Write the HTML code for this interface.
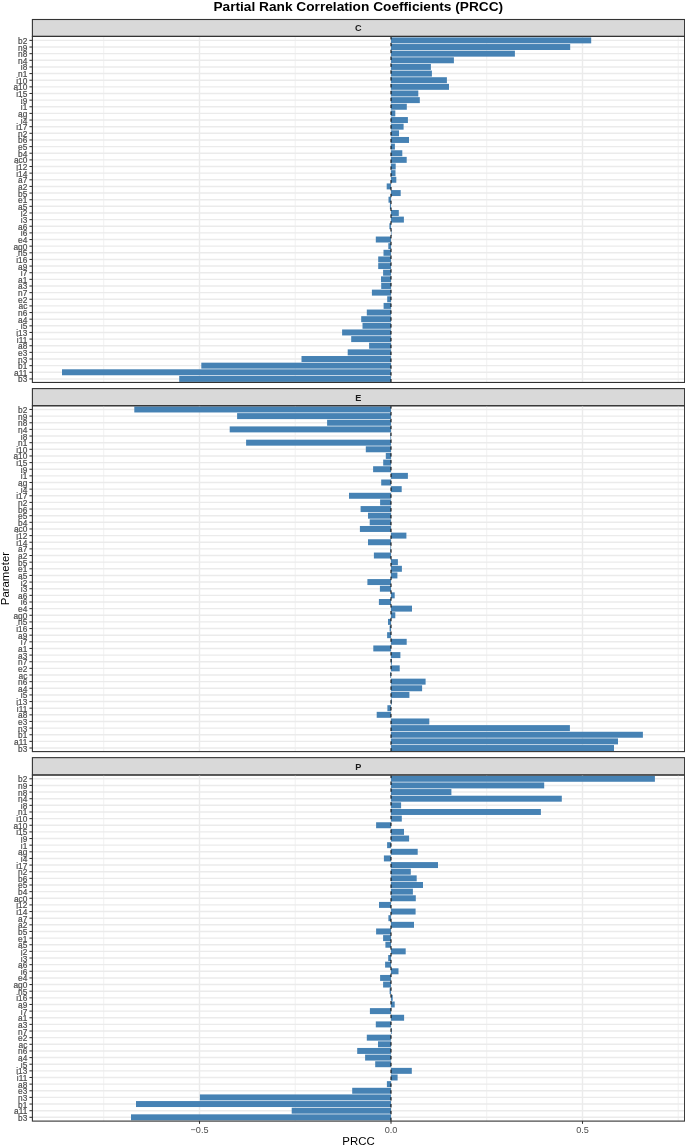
<!DOCTYPE html><html><head><meta charset="utf-8"><style>html,body{margin:0;padding:0;background:#fff;}svg{display:block;will-change:transform;}text{font-family:"Liberation Sans",sans-serif;}</style></head><body>
<svg width="685" height="1146" viewBox="0 0 685 1146">
<rect x="0" y="0" width="685" height="1146" fill="#fff"/>
<text x="358.3" y="10.5" font-size="13.7" font-weight="bold" text-anchor="middle" fill="#000">Partial Rank Correlation Coefficients (PRCC)</text>
<rect x="32.4" y="19.5" width="652.2" height="16.9" fill="#D9D9D9" stroke="#333" stroke-width="1.1"/>
<text x="358.4" y="31.35" font-size="9.13" font-weight="bold" text-anchor="middle" fill="#1A1A1A">C</text>
<line x1="103.75" y1="36.4" x2="103.75" y2="382.45" stroke="#EBEBEB" stroke-width="0.71"/>
<line x1="295.25" y1="36.4" x2="295.25" y2="382.45" stroke="#EBEBEB" stroke-width="0.71"/>
<line x1="486.75" y1="36.4" x2="486.75" y2="382.45" stroke="#EBEBEB" stroke-width="0.71"/>
<line x1="678.25" y1="36.4" x2="678.25" y2="382.45" stroke="#EBEBEB" stroke-width="0.71"/>
<line x1="32.4" y1="40.38" x2="684.6" y2="40.38" stroke="#EBEBEB" stroke-width="1.42"/>
<line x1="32.4" y1="47.02" x2="684.6" y2="47.02" stroke="#EBEBEB" stroke-width="1.42"/>
<line x1="32.4" y1="53.66" x2="684.6" y2="53.66" stroke="#EBEBEB" stroke-width="1.42"/>
<line x1="32.4" y1="60.3" x2="684.6" y2="60.3" stroke="#EBEBEB" stroke-width="1.42"/>
<line x1="32.4" y1="66.93" x2="684.6" y2="66.93" stroke="#EBEBEB" stroke-width="1.42"/>
<line x1="32.4" y1="73.57" x2="684.6" y2="73.57" stroke="#EBEBEB" stroke-width="1.42"/>
<line x1="32.4" y1="80.21" x2="684.6" y2="80.21" stroke="#EBEBEB" stroke-width="1.42"/>
<line x1="32.4" y1="86.85" x2="684.6" y2="86.85" stroke="#EBEBEB" stroke-width="1.42"/>
<line x1="32.4" y1="93.49" x2="684.6" y2="93.49" stroke="#EBEBEB" stroke-width="1.42"/>
<line x1="32.4" y1="100.12" x2="684.6" y2="100.12" stroke="#EBEBEB" stroke-width="1.42"/>
<line x1="32.4" y1="106.76" x2="684.6" y2="106.76" stroke="#EBEBEB" stroke-width="1.42"/>
<line x1="32.4" y1="113.4" x2="684.6" y2="113.4" stroke="#EBEBEB" stroke-width="1.42"/>
<line x1="32.4" y1="120.04" x2="684.6" y2="120.04" stroke="#EBEBEB" stroke-width="1.42"/>
<line x1="32.4" y1="126.68" x2="684.6" y2="126.68" stroke="#EBEBEB" stroke-width="1.42"/>
<line x1="32.4" y1="133.31" x2="684.6" y2="133.31" stroke="#EBEBEB" stroke-width="1.42"/>
<line x1="32.4" y1="139.95" x2="684.6" y2="139.95" stroke="#EBEBEB" stroke-width="1.42"/>
<line x1="32.4" y1="146.59" x2="684.6" y2="146.59" stroke="#EBEBEB" stroke-width="1.42"/>
<line x1="32.4" y1="153.23" x2="684.6" y2="153.23" stroke="#EBEBEB" stroke-width="1.42"/>
<line x1="32.4" y1="159.87" x2="684.6" y2="159.87" stroke="#EBEBEB" stroke-width="1.42"/>
<line x1="32.4" y1="166.5" x2="684.6" y2="166.5" stroke="#EBEBEB" stroke-width="1.42"/>
<line x1="32.4" y1="173.14" x2="684.6" y2="173.14" stroke="#EBEBEB" stroke-width="1.42"/>
<line x1="32.4" y1="179.78" x2="684.6" y2="179.78" stroke="#EBEBEB" stroke-width="1.42"/>
<line x1="32.4" y1="186.42" x2="684.6" y2="186.42" stroke="#EBEBEB" stroke-width="1.42"/>
<line x1="32.4" y1="193.06" x2="684.6" y2="193.06" stroke="#EBEBEB" stroke-width="1.42"/>
<line x1="32.4" y1="199.69" x2="684.6" y2="199.69" stroke="#EBEBEB" stroke-width="1.42"/>
<line x1="32.4" y1="206.33" x2="684.6" y2="206.33" stroke="#EBEBEB" stroke-width="1.42"/>
<line x1="32.4" y1="212.97" x2="684.6" y2="212.97" stroke="#EBEBEB" stroke-width="1.42"/>
<line x1="32.4" y1="219.61" x2="684.6" y2="219.61" stroke="#EBEBEB" stroke-width="1.42"/>
<line x1="32.4" y1="226.25" x2="684.6" y2="226.25" stroke="#EBEBEB" stroke-width="1.42"/>
<line x1="32.4" y1="232.88" x2="684.6" y2="232.88" stroke="#EBEBEB" stroke-width="1.42"/>
<line x1="32.4" y1="239.52" x2="684.6" y2="239.52" stroke="#EBEBEB" stroke-width="1.42"/>
<line x1="32.4" y1="246.16" x2="684.6" y2="246.16" stroke="#EBEBEB" stroke-width="1.42"/>
<line x1="32.4" y1="252.8" x2="684.6" y2="252.8" stroke="#EBEBEB" stroke-width="1.42"/>
<line x1="32.4" y1="259.44" x2="684.6" y2="259.44" stroke="#EBEBEB" stroke-width="1.42"/>
<line x1="32.4" y1="266.07" x2="684.6" y2="266.07" stroke="#EBEBEB" stroke-width="1.42"/>
<line x1="32.4" y1="272.71" x2="684.6" y2="272.71" stroke="#EBEBEB" stroke-width="1.42"/>
<line x1="32.4" y1="279.35" x2="684.6" y2="279.35" stroke="#EBEBEB" stroke-width="1.42"/>
<line x1="32.4" y1="285.99" x2="684.6" y2="285.99" stroke="#EBEBEB" stroke-width="1.42"/>
<line x1="32.4" y1="292.63" x2="684.6" y2="292.63" stroke="#EBEBEB" stroke-width="1.42"/>
<line x1="32.4" y1="299.26" x2="684.6" y2="299.26" stroke="#EBEBEB" stroke-width="1.42"/>
<line x1="32.4" y1="305.9" x2="684.6" y2="305.9" stroke="#EBEBEB" stroke-width="1.42"/>
<line x1="32.4" y1="312.54" x2="684.6" y2="312.54" stroke="#EBEBEB" stroke-width="1.42"/>
<line x1="32.4" y1="319.18" x2="684.6" y2="319.18" stroke="#EBEBEB" stroke-width="1.42"/>
<line x1="32.4" y1="325.82" x2="684.6" y2="325.82" stroke="#EBEBEB" stroke-width="1.42"/>
<line x1="32.4" y1="332.45" x2="684.6" y2="332.45" stroke="#EBEBEB" stroke-width="1.42"/>
<line x1="32.4" y1="339.09" x2="684.6" y2="339.09" stroke="#EBEBEB" stroke-width="1.42"/>
<line x1="32.4" y1="345.73" x2="684.6" y2="345.73" stroke="#EBEBEB" stroke-width="1.42"/>
<line x1="32.4" y1="352.37" x2="684.6" y2="352.37" stroke="#EBEBEB" stroke-width="1.42"/>
<line x1="32.4" y1="359.01" x2="684.6" y2="359.01" stroke="#EBEBEB" stroke-width="1.42"/>
<line x1="32.4" y1="365.64" x2="684.6" y2="365.64" stroke="#EBEBEB" stroke-width="1.42"/>
<line x1="32.4" y1="372.28" x2="684.6" y2="372.28" stroke="#EBEBEB" stroke-width="1.42"/>
<line x1="32.4" y1="378.92" x2="684.6" y2="378.92" stroke="#EBEBEB" stroke-width="1.42"/>
<line x1="199.5" y1="36.4" x2="199.5" y2="382.45" stroke="#EBEBEB" stroke-width="1.42"/>
<line x1="391" y1="36.4" x2="391" y2="382.45" stroke="#EBEBEB" stroke-width="1.42"/>
<line x1="582.5" y1="36.4" x2="582.5" y2="382.45" stroke="#EBEBEB" stroke-width="1.42"/>
<rect x="391" y="37.4" width="200.2" height="5.97" fill="#4682B4"/>
<rect x="391" y="44.03" width="179.2" height="5.97" fill="#4682B4"/>
<rect x="391" y="50.67" width="123.9" height="5.97" fill="#4682B4"/>
<rect x="391" y="57.31" width="62.9" height="5.97" fill="#4682B4"/>
<rect x="391" y="63.95" width="39.9" height="5.97" fill="#4682B4"/>
<rect x="391" y="70.59" width="40.9" height="5.97" fill="#4682B4"/>
<rect x="391" y="77.22" width="55.9" height="5.97" fill="#4682B4"/>
<rect x="391" y="83.86" width="58" height="5.97" fill="#4682B4"/>
<rect x="391" y="90.5" width="27.3" height="5.97" fill="#4682B4"/>
<rect x="391" y="97.14" width="28.8" height="5.97" fill="#4682B4"/>
<rect x="391" y="103.78" width="15.8" height="5.97" fill="#4682B4"/>
<rect x="391" y="110.41" width="4.3" height="5.97" fill="#4682B4"/>
<rect x="391" y="117.05" width="16.9" height="5.97" fill="#4682B4"/>
<rect x="391" y="123.69" width="12.6" height="5.97" fill="#4682B4"/>
<rect x="391" y="130.33" width="8" height="5.97" fill="#4682B4"/>
<rect x="391" y="136.97" width="18" height="5.97" fill="#4682B4"/>
<rect x="391" y="143.6" width="3.9" height="5.97" fill="#4682B4"/>
<rect x="391" y="150.24" width="11.3" height="5.97" fill="#4682B4"/>
<rect x="391" y="156.88" width="15.7" height="5.97" fill="#4682B4"/>
<rect x="391" y="163.52" width="4.7" height="5.97" fill="#4682B4"/>
<rect x="391" y="170.16" width="4.5" height="5.97" fill="#4682B4"/>
<rect x="391" y="176.79" width="5.3" height="5.97" fill="#4682B4"/>
<rect x="386.7" y="183.43" width="4.3" height="5.97" fill="#4682B4"/>
<rect x="391" y="190.07" width="9.7" height="5.97" fill="#4682B4"/>
<rect x="388.5" y="196.71" width="2.5" height="5.97" fill="#4682B4"/>
<rect x="389.9" y="203.35" width="1.1" height="5.97" fill="#4682B4"/>
<rect x="391" y="209.98" width="7.8" height="5.97" fill="#4682B4"/>
<rect x="391" y="216.62" width="12.9" height="5.97" fill="#4682B4"/>
<rect x="389.4" y="223.26" width="1.6" height="5.97" fill="#4682B4"/>
<rect x="391" y="229.9" width="0.5" height="5.97" fill="#4682B4"/>
<rect x="375.8" y="236.54" width="15.2" height="5.97" fill="#4682B4"/>
<rect x="388.3" y="243.17" width="2.7" height="5.97" fill="#4682B4"/>
<rect x="383.5" y="249.81" width="7.5" height="5.97" fill="#4682B4"/>
<rect x="378.2" y="256.45" width="12.8" height="5.97" fill="#4682B4"/>
<rect x="378.2" y="263.09" width="12.8" height="5.97" fill="#4682B4"/>
<rect x="383.1" y="269.73" width="7.9" height="5.97" fill="#4682B4"/>
<rect x="381" y="276.36" width="10" height="5.97" fill="#4682B4"/>
<rect x="381.2" y="283" width="9.8" height="5.97" fill="#4682B4"/>
<rect x="371.9" y="289.64" width="19.1" height="5.97" fill="#4682B4"/>
<rect x="387.2" y="296.28" width="3.8" height="5.97" fill="#4682B4"/>
<rect x="383.6" y="302.92" width="7.4" height="5.97" fill="#4682B4"/>
<rect x="366.8" y="309.55" width="24.2" height="5.97" fill="#4682B4"/>
<rect x="361.2" y="316.19" width="29.8" height="5.97" fill="#4682B4"/>
<rect x="362.5" y="322.83" width="28.5" height="5.97" fill="#4682B4"/>
<rect x="342.1" y="329.47" width="48.9" height="5.97" fill="#4682B4"/>
<rect x="351.2" y="336.11" width="39.8" height="5.97" fill="#4682B4"/>
<rect x="369.1" y="342.74" width="21.9" height="5.97" fill="#4682B4"/>
<rect x="347.7" y="349.38" width="43.3" height="5.97" fill="#4682B4"/>
<rect x="301.5" y="356.02" width="89.5" height="5.97" fill="#4682B4"/>
<rect x="201.3" y="362.66" width="189.7" height="5.97" fill="#4682B4"/>
<rect x="62" y="369.3" width="329" height="5.97" fill="#4682B4"/>
<rect x="179.2" y="375.93" width="211.8" height="5.97" fill="#4682B4"/>
<line x1="391" y1="382.45" x2="391" y2="36.4" stroke="#000" stroke-width="1.0" stroke-dasharray="3.43 3.43"/>
<rect x="32.4" y="36.4" width="652.2" height="346.05" fill="none" stroke="#333" stroke-width="1.1"/>
<line x1="29.4" y1="40.38" x2="32.4" y2="40.38" stroke="#333" stroke-width="1.07"/>
<text x="27.3" y="43.88" font-size="8.3" text-anchor="end" fill="#4D4D4D" stroke="#4D4D4D" stroke-width="0.2">b2</text>
<line x1="29.4" y1="47.02" x2="32.4" y2="47.02" stroke="#333" stroke-width="1.07"/>
<text x="27.3" y="50.52" font-size="8.3" text-anchor="end" fill="#4D4D4D" stroke="#4D4D4D" stroke-width="0.2">n9</text>
<line x1="29.4" y1="53.66" x2="32.4" y2="53.66" stroke="#333" stroke-width="1.07"/>
<text x="27.3" y="57.16" font-size="8.3" text-anchor="end" fill="#4D4D4D" stroke="#4D4D4D" stroke-width="0.2">n8</text>
<line x1="29.4" y1="60.3" x2="32.4" y2="60.3" stroke="#333" stroke-width="1.07"/>
<text x="27.3" y="63.8" font-size="8.3" text-anchor="end" fill="#4D4D4D" stroke="#4D4D4D" stroke-width="0.2">n4</text>
<line x1="29.4" y1="66.93" x2="32.4" y2="66.93" stroke="#333" stroke-width="1.07"/>
<text x="27.3" y="70.43" font-size="8.3" text-anchor="end" fill="#4D4D4D" stroke="#4D4D4D" stroke-width="0.2">i8</text>
<line x1="29.4" y1="73.57" x2="32.4" y2="73.57" stroke="#333" stroke-width="1.07"/>
<text x="27.3" y="77.07" font-size="8.3" text-anchor="end" fill="#4D4D4D" stroke="#4D4D4D" stroke-width="0.2">n1</text>
<line x1="29.4" y1="80.21" x2="32.4" y2="80.21" stroke="#333" stroke-width="1.07"/>
<text x="27.3" y="83.71" font-size="8.3" text-anchor="end" fill="#4D4D4D" stroke="#4D4D4D" stroke-width="0.2">i10</text>
<line x1="29.4" y1="86.85" x2="32.4" y2="86.85" stroke="#333" stroke-width="1.07"/>
<text x="27.3" y="90.35" font-size="8.3" text-anchor="end" fill="#4D4D4D" stroke="#4D4D4D" stroke-width="0.2">a10</text>
<line x1="29.4" y1="93.49" x2="32.4" y2="93.49" stroke="#333" stroke-width="1.07"/>
<text x="27.3" y="96.99" font-size="8.3" text-anchor="end" fill="#4D4D4D" stroke="#4D4D4D" stroke-width="0.2">i15</text>
<line x1="29.4" y1="100.12" x2="32.4" y2="100.12" stroke="#333" stroke-width="1.07"/>
<text x="27.3" y="103.62" font-size="8.3" text-anchor="end" fill="#4D4D4D" stroke="#4D4D4D" stroke-width="0.2">i9</text>
<line x1="29.4" y1="106.76" x2="32.4" y2="106.76" stroke="#333" stroke-width="1.07"/>
<text x="27.3" y="110.26" font-size="8.3" text-anchor="end" fill="#4D4D4D" stroke="#4D4D4D" stroke-width="0.2">i1</text>
<line x1="29.4" y1="113.4" x2="32.4" y2="113.4" stroke="#333" stroke-width="1.07"/>
<text x="27.3" y="116.9" font-size="8.3" text-anchor="end" fill="#4D4D4D" stroke="#4D4D4D" stroke-width="0.2">ag</text>
<line x1="29.4" y1="120.04" x2="32.4" y2="120.04" stroke="#333" stroke-width="1.07"/>
<text x="27.3" y="123.54" font-size="8.3" text-anchor="end" fill="#4D4D4D" stroke="#4D4D4D" stroke-width="0.2">i4</text>
<line x1="29.4" y1="126.68" x2="32.4" y2="126.68" stroke="#333" stroke-width="1.07"/>
<text x="27.3" y="130.18" font-size="8.3" text-anchor="end" fill="#4D4D4D" stroke="#4D4D4D" stroke-width="0.2">i17</text>
<line x1="29.4" y1="133.31" x2="32.4" y2="133.31" stroke="#333" stroke-width="1.07"/>
<text x="27.3" y="136.81" font-size="8.3" text-anchor="end" fill="#4D4D4D" stroke="#4D4D4D" stroke-width="0.2">n2</text>
<line x1="29.4" y1="139.95" x2="32.4" y2="139.95" stroke="#333" stroke-width="1.07"/>
<text x="27.3" y="143.45" font-size="8.3" text-anchor="end" fill="#4D4D4D" stroke="#4D4D4D" stroke-width="0.2">b6</text>
<line x1="29.4" y1="146.59" x2="32.4" y2="146.59" stroke="#333" stroke-width="1.07"/>
<text x="27.3" y="150.09" font-size="8.3" text-anchor="end" fill="#4D4D4D" stroke="#4D4D4D" stroke-width="0.2">e5</text>
<line x1="29.4" y1="153.23" x2="32.4" y2="153.23" stroke="#333" stroke-width="1.07"/>
<text x="27.3" y="156.73" font-size="8.3" text-anchor="end" fill="#4D4D4D" stroke="#4D4D4D" stroke-width="0.2">b4</text>
<line x1="29.4" y1="159.87" x2="32.4" y2="159.87" stroke="#333" stroke-width="1.07"/>
<text x="27.3" y="163.37" font-size="8.3" text-anchor="end" fill="#4D4D4D" stroke="#4D4D4D" stroke-width="0.2">ac0</text>
<line x1="29.4" y1="166.5" x2="32.4" y2="166.5" stroke="#333" stroke-width="1.07"/>
<text x="27.3" y="170" font-size="8.3" text-anchor="end" fill="#4D4D4D" stroke="#4D4D4D" stroke-width="0.2">i12</text>
<line x1="29.4" y1="173.14" x2="32.4" y2="173.14" stroke="#333" stroke-width="1.07"/>
<text x="27.3" y="176.64" font-size="8.3" text-anchor="end" fill="#4D4D4D" stroke="#4D4D4D" stroke-width="0.2">i14</text>
<line x1="29.4" y1="179.78" x2="32.4" y2="179.78" stroke="#333" stroke-width="1.07"/>
<text x="27.3" y="183.28" font-size="8.3" text-anchor="end" fill="#4D4D4D" stroke="#4D4D4D" stroke-width="0.2">a7</text>
<line x1="29.4" y1="186.42" x2="32.4" y2="186.42" stroke="#333" stroke-width="1.07"/>
<text x="27.3" y="189.92" font-size="8.3" text-anchor="end" fill="#4D4D4D" stroke="#4D4D4D" stroke-width="0.2">a2</text>
<line x1="29.4" y1="193.06" x2="32.4" y2="193.06" stroke="#333" stroke-width="1.07"/>
<text x="27.3" y="196.56" font-size="8.3" text-anchor="end" fill="#4D4D4D" stroke="#4D4D4D" stroke-width="0.2">b5</text>
<line x1="29.4" y1="199.69" x2="32.4" y2="199.69" stroke="#333" stroke-width="1.07"/>
<text x="27.3" y="203.19" font-size="8.3" text-anchor="end" fill="#4D4D4D" stroke="#4D4D4D" stroke-width="0.2">e1</text>
<line x1="29.4" y1="206.33" x2="32.4" y2="206.33" stroke="#333" stroke-width="1.07"/>
<text x="27.3" y="209.83" font-size="8.3" text-anchor="end" fill="#4D4D4D" stroke="#4D4D4D" stroke-width="0.2">a5</text>
<line x1="29.4" y1="212.97" x2="32.4" y2="212.97" stroke="#333" stroke-width="1.07"/>
<text x="27.3" y="216.47" font-size="8.3" text-anchor="end" fill="#4D4D4D" stroke="#4D4D4D" stroke-width="0.2">i2</text>
<line x1="29.4" y1="219.61" x2="32.4" y2="219.61" stroke="#333" stroke-width="1.07"/>
<text x="27.3" y="223.11" font-size="8.3" text-anchor="end" fill="#4D4D4D" stroke="#4D4D4D" stroke-width="0.2">i3</text>
<line x1="29.4" y1="226.25" x2="32.4" y2="226.25" stroke="#333" stroke-width="1.07"/>
<text x="27.3" y="229.75" font-size="8.3" text-anchor="end" fill="#4D4D4D" stroke="#4D4D4D" stroke-width="0.2">a6</text>
<line x1="29.4" y1="232.88" x2="32.4" y2="232.88" stroke="#333" stroke-width="1.07"/>
<text x="27.3" y="236.38" font-size="8.3" text-anchor="end" fill="#4D4D4D" stroke="#4D4D4D" stroke-width="0.2">i6</text>
<line x1="29.4" y1="239.52" x2="32.4" y2="239.52" stroke="#333" stroke-width="1.07"/>
<text x="27.3" y="243.02" font-size="8.3" text-anchor="end" fill="#4D4D4D" stroke="#4D4D4D" stroke-width="0.2">e4</text>
<line x1="29.4" y1="246.16" x2="32.4" y2="246.16" stroke="#333" stroke-width="1.07"/>
<text x="27.3" y="249.66" font-size="8.3" text-anchor="end" fill="#4D4D4D" stroke="#4D4D4D" stroke-width="0.2">ag0</text>
<line x1="29.4" y1="252.8" x2="32.4" y2="252.8" stroke="#333" stroke-width="1.07"/>
<text x="27.3" y="256.3" font-size="8.3" text-anchor="end" fill="#4D4D4D" stroke="#4D4D4D" stroke-width="0.2">n5</text>
<line x1="29.4" y1="259.44" x2="32.4" y2="259.44" stroke="#333" stroke-width="1.07"/>
<text x="27.3" y="262.94" font-size="8.3" text-anchor="end" fill="#4D4D4D" stroke="#4D4D4D" stroke-width="0.2">i16</text>
<line x1="29.4" y1="266.07" x2="32.4" y2="266.07" stroke="#333" stroke-width="1.07"/>
<text x="27.3" y="269.57" font-size="8.3" text-anchor="end" fill="#4D4D4D" stroke="#4D4D4D" stroke-width="0.2">a9</text>
<line x1="29.4" y1="272.71" x2="32.4" y2="272.71" stroke="#333" stroke-width="1.07"/>
<text x="27.3" y="276.21" font-size="8.3" text-anchor="end" fill="#4D4D4D" stroke="#4D4D4D" stroke-width="0.2">i7</text>
<line x1="29.4" y1="279.35" x2="32.4" y2="279.35" stroke="#333" stroke-width="1.07"/>
<text x="27.3" y="282.85" font-size="8.3" text-anchor="end" fill="#4D4D4D" stroke="#4D4D4D" stroke-width="0.2">a1</text>
<line x1="29.4" y1="285.99" x2="32.4" y2="285.99" stroke="#333" stroke-width="1.07"/>
<text x="27.3" y="289.49" font-size="8.3" text-anchor="end" fill="#4D4D4D" stroke="#4D4D4D" stroke-width="0.2">a3</text>
<line x1="29.4" y1="292.63" x2="32.4" y2="292.63" stroke="#333" stroke-width="1.07"/>
<text x="27.3" y="296.13" font-size="8.3" text-anchor="end" fill="#4D4D4D" stroke="#4D4D4D" stroke-width="0.2">n7</text>
<line x1="29.4" y1="299.26" x2="32.4" y2="299.26" stroke="#333" stroke-width="1.07"/>
<text x="27.3" y="302.76" font-size="8.3" text-anchor="end" fill="#4D4D4D" stroke="#4D4D4D" stroke-width="0.2">e2</text>
<line x1="29.4" y1="305.9" x2="32.4" y2="305.9" stroke="#333" stroke-width="1.07"/>
<text x="27.3" y="309.4" font-size="8.3" text-anchor="end" fill="#4D4D4D" stroke="#4D4D4D" stroke-width="0.2">ac</text>
<line x1="29.4" y1="312.54" x2="32.4" y2="312.54" stroke="#333" stroke-width="1.07"/>
<text x="27.3" y="316.04" font-size="8.3" text-anchor="end" fill="#4D4D4D" stroke="#4D4D4D" stroke-width="0.2">n6</text>
<line x1="29.4" y1="319.18" x2="32.4" y2="319.18" stroke="#333" stroke-width="1.07"/>
<text x="27.3" y="322.68" font-size="8.3" text-anchor="end" fill="#4D4D4D" stroke="#4D4D4D" stroke-width="0.2">a4</text>
<line x1="29.4" y1="325.82" x2="32.4" y2="325.82" stroke="#333" stroke-width="1.07"/>
<text x="27.3" y="329.32" font-size="8.3" text-anchor="end" fill="#4D4D4D" stroke="#4D4D4D" stroke-width="0.2">i5</text>
<line x1="29.4" y1="332.45" x2="32.4" y2="332.45" stroke="#333" stroke-width="1.07"/>
<text x="27.3" y="335.95" font-size="8.3" text-anchor="end" fill="#4D4D4D" stroke="#4D4D4D" stroke-width="0.2">i13</text>
<line x1="29.4" y1="339.09" x2="32.4" y2="339.09" stroke="#333" stroke-width="1.07"/>
<text x="27.3" y="342.59" font-size="8.3" text-anchor="end" fill="#4D4D4D" stroke="#4D4D4D" stroke-width="0.2">i11</text>
<line x1="29.4" y1="345.73" x2="32.4" y2="345.73" stroke="#333" stroke-width="1.07"/>
<text x="27.3" y="349.23" font-size="8.3" text-anchor="end" fill="#4D4D4D" stroke="#4D4D4D" stroke-width="0.2">a8</text>
<line x1="29.4" y1="352.37" x2="32.4" y2="352.37" stroke="#333" stroke-width="1.07"/>
<text x="27.3" y="355.87" font-size="8.3" text-anchor="end" fill="#4D4D4D" stroke="#4D4D4D" stroke-width="0.2">e3</text>
<line x1="29.4" y1="359.01" x2="32.4" y2="359.01" stroke="#333" stroke-width="1.07"/>
<text x="27.3" y="362.51" font-size="8.3" text-anchor="end" fill="#4D4D4D" stroke="#4D4D4D" stroke-width="0.2">n3</text>
<line x1="29.4" y1="365.64" x2="32.4" y2="365.64" stroke="#333" stroke-width="1.07"/>
<text x="27.3" y="369.14" font-size="8.3" text-anchor="end" fill="#4D4D4D" stroke="#4D4D4D" stroke-width="0.2">b1</text>
<line x1="29.4" y1="372.28" x2="32.4" y2="372.28" stroke="#333" stroke-width="1.07"/>
<text x="27.3" y="375.78" font-size="8.3" text-anchor="end" fill="#4D4D4D" stroke="#4D4D4D" stroke-width="0.2">a11</text>
<line x1="29.4" y1="378.92" x2="32.4" y2="378.92" stroke="#333" stroke-width="1.07"/>
<text x="27.3" y="382.42" font-size="8.3" text-anchor="end" fill="#4D4D4D" stroke="#4D4D4D" stroke-width="0.2">b3</text>
<rect x="32.4" y="388.6" width="652.2" height="17.15" fill="#D9D9D9" stroke="#333" stroke-width="1.1"/>
<text x="358.4" y="400.57" font-size="9.13" font-weight="bold" text-anchor="middle" fill="#1A1A1A">E</text>
<line x1="103.75" y1="405.75" x2="103.75" y2="751.6" stroke="#EBEBEB" stroke-width="0.71"/>
<line x1="295.25" y1="405.75" x2="295.25" y2="751.6" stroke="#EBEBEB" stroke-width="0.71"/>
<line x1="486.75" y1="405.75" x2="486.75" y2="751.6" stroke="#EBEBEB" stroke-width="0.71"/>
<line x1="678.25" y1="405.75" x2="678.25" y2="751.6" stroke="#EBEBEB" stroke-width="0.71"/>
<line x1="32.4" y1="409.48" x2="684.6" y2="409.48" stroke="#EBEBEB" stroke-width="1.42"/>
<line x1="32.4" y1="416.12" x2="684.6" y2="416.12" stroke="#EBEBEB" stroke-width="1.42"/>
<line x1="32.4" y1="422.76" x2="684.6" y2="422.76" stroke="#EBEBEB" stroke-width="1.42"/>
<line x1="32.4" y1="429.4" x2="684.6" y2="429.4" stroke="#EBEBEB" stroke-width="1.42"/>
<line x1="32.4" y1="436.03" x2="684.6" y2="436.03" stroke="#EBEBEB" stroke-width="1.42"/>
<line x1="32.4" y1="442.67" x2="684.6" y2="442.67" stroke="#EBEBEB" stroke-width="1.42"/>
<line x1="32.4" y1="449.31" x2="684.6" y2="449.31" stroke="#EBEBEB" stroke-width="1.42"/>
<line x1="32.4" y1="455.95" x2="684.6" y2="455.95" stroke="#EBEBEB" stroke-width="1.42"/>
<line x1="32.4" y1="462.59" x2="684.6" y2="462.59" stroke="#EBEBEB" stroke-width="1.42"/>
<line x1="32.4" y1="469.22" x2="684.6" y2="469.22" stroke="#EBEBEB" stroke-width="1.42"/>
<line x1="32.4" y1="475.86" x2="684.6" y2="475.86" stroke="#EBEBEB" stroke-width="1.42"/>
<line x1="32.4" y1="482.5" x2="684.6" y2="482.5" stroke="#EBEBEB" stroke-width="1.42"/>
<line x1="32.4" y1="489.14" x2="684.6" y2="489.14" stroke="#EBEBEB" stroke-width="1.42"/>
<line x1="32.4" y1="495.78" x2="684.6" y2="495.78" stroke="#EBEBEB" stroke-width="1.42"/>
<line x1="32.4" y1="502.41" x2="684.6" y2="502.41" stroke="#EBEBEB" stroke-width="1.42"/>
<line x1="32.4" y1="509.05" x2="684.6" y2="509.05" stroke="#EBEBEB" stroke-width="1.42"/>
<line x1="32.4" y1="515.69" x2="684.6" y2="515.69" stroke="#EBEBEB" stroke-width="1.42"/>
<line x1="32.4" y1="522.33" x2="684.6" y2="522.33" stroke="#EBEBEB" stroke-width="1.42"/>
<line x1="32.4" y1="528.97" x2="684.6" y2="528.97" stroke="#EBEBEB" stroke-width="1.42"/>
<line x1="32.4" y1="535.6" x2="684.6" y2="535.6" stroke="#EBEBEB" stroke-width="1.42"/>
<line x1="32.4" y1="542.24" x2="684.6" y2="542.24" stroke="#EBEBEB" stroke-width="1.42"/>
<line x1="32.4" y1="548.88" x2="684.6" y2="548.88" stroke="#EBEBEB" stroke-width="1.42"/>
<line x1="32.4" y1="555.52" x2="684.6" y2="555.52" stroke="#EBEBEB" stroke-width="1.42"/>
<line x1="32.4" y1="562.16" x2="684.6" y2="562.16" stroke="#EBEBEB" stroke-width="1.42"/>
<line x1="32.4" y1="568.79" x2="684.6" y2="568.79" stroke="#EBEBEB" stroke-width="1.42"/>
<line x1="32.4" y1="575.43" x2="684.6" y2="575.43" stroke="#EBEBEB" stroke-width="1.42"/>
<line x1="32.4" y1="582.07" x2="684.6" y2="582.07" stroke="#EBEBEB" stroke-width="1.42"/>
<line x1="32.4" y1="588.71" x2="684.6" y2="588.71" stroke="#EBEBEB" stroke-width="1.42"/>
<line x1="32.4" y1="595.35" x2="684.6" y2="595.35" stroke="#EBEBEB" stroke-width="1.42"/>
<line x1="32.4" y1="601.98" x2="684.6" y2="601.98" stroke="#EBEBEB" stroke-width="1.42"/>
<line x1="32.4" y1="608.62" x2="684.6" y2="608.62" stroke="#EBEBEB" stroke-width="1.42"/>
<line x1="32.4" y1="615.26" x2="684.6" y2="615.26" stroke="#EBEBEB" stroke-width="1.42"/>
<line x1="32.4" y1="621.9" x2="684.6" y2="621.9" stroke="#EBEBEB" stroke-width="1.42"/>
<line x1="32.4" y1="628.54" x2="684.6" y2="628.54" stroke="#EBEBEB" stroke-width="1.42"/>
<line x1="32.4" y1="635.17" x2="684.6" y2="635.17" stroke="#EBEBEB" stroke-width="1.42"/>
<line x1="32.4" y1="641.81" x2="684.6" y2="641.81" stroke="#EBEBEB" stroke-width="1.42"/>
<line x1="32.4" y1="648.45" x2="684.6" y2="648.45" stroke="#EBEBEB" stroke-width="1.42"/>
<line x1="32.4" y1="655.09" x2="684.6" y2="655.09" stroke="#EBEBEB" stroke-width="1.42"/>
<line x1="32.4" y1="661.73" x2="684.6" y2="661.73" stroke="#EBEBEB" stroke-width="1.42"/>
<line x1="32.4" y1="668.36" x2="684.6" y2="668.36" stroke="#EBEBEB" stroke-width="1.42"/>
<line x1="32.4" y1="675" x2="684.6" y2="675" stroke="#EBEBEB" stroke-width="1.42"/>
<line x1="32.4" y1="681.64" x2="684.6" y2="681.64" stroke="#EBEBEB" stroke-width="1.42"/>
<line x1="32.4" y1="688.28" x2="684.6" y2="688.28" stroke="#EBEBEB" stroke-width="1.42"/>
<line x1="32.4" y1="694.92" x2="684.6" y2="694.92" stroke="#EBEBEB" stroke-width="1.42"/>
<line x1="32.4" y1="701.55" x2="684.6" y2="701.55" stroke="#EBEBEB" stroke-width="1.42"/>
<line x1="32.4" y1="708.19" x2="684.6" y2="708.19" stroke="#EBEBEB" stroke-width="1.42"/>
<line x1="32.4" y1="714.83" x2="684.6" y2="714.83" stroke="#EBEBEB" stroke-width="1.42"/>
<line x1="32.4" y1="721.47" x2="684.6" y2="721.47" stroke="#EBEBEB" stroke-width="1.42"/>
<line x1="32.4" y1="728.11" x2="684.6" y2="728.11" stroke="#EBEBEB" stroke-width="1.42"/>
<line x1="32.4" y1="734.74" x2="684.6" y2="734.74" stroke="#EBEBEB" stroke-width="1.42"/>
<line x1="32.4" y1="741.38" x2="684.6" y2="741.38" stroke="#EBEBEB" stroke-width="1.42"/>
<line x1="32.4" y1="748.02" x2="684.6" y2="748.02" stroke="#EBEBEB" stroke-width="1.42"/>
<line x1="199.5" y1="405.75" x2="199.5" y2="751.6" stroke="#EBEBEB" stroke-width="1.42"/>
<line x1="391" y1="405.75" x2="391" y2="751.6" stroke="#EBEBEB" stroke-width="1.42"/>
<line x1="582.5" y1="405.75" x2="582.5" y2="751.6" stroke="#EBEBEB" stroke-width="1.42"/>
<rect x="134.3" y="406.5" width="256.7" height="5.97" fill="#4682B4"/>
<rect x="237.1" y="413.13" width="153.9" height="5.97" fill="#4682B4"/>
<rect x="327.1" y="419.77" width="63.9" height="5.97" fill="#4682B4"/>
<rect x="229.7" y="426.41" width="161.3" height="5.97" fill="#4682B4"/>
<rect x="390.4" y="433.05" width="0.6" height="5.97" fill="#4682B4"/>
<rect x="246.1" y="439.69" width="144.9" height="5.97" fill="#4682B4"/>
<rect x="365.8" y="446.32" width="25.2" height="5.97" fill="#4682B4"/>
<rect x="385.8" y="452.96" width="5.2" height="5.97" fill="#4682B4"/>
<rect x="383.2" y="459.6" width="7.8" height="5.97" fill="#4682B4"/>
<rect x="373.1" y="466.24" width="17.9" height="5.97" fill="#4682B4"/>
<rect x="391" y="472.88" width="16.9" height="5.97" fill="#4682B4"/>
<rect x="381.2" y="479.51" width="9.8" height="5.97" fill="#4682B4"/>
<rect x="391" y="486.15" width="10.7" height="5.97" fill="#4682B4"/>
<rect x="349" y="492.79" width="42" height="5.97" fill="#4682B4"/>
<rect x="380.1" y="499.43" width="10.9" height="5.97" fill="#4682B4"/>
<rect x="360.6" y="506.07" width="30.4" height="5.97" fill="#4682B4"/>
<rect x="368" y="512.7" width="23" height="5.97" fill="#4682B4"/>
<rect x="369.7" y="519.34" width="21.3" height="5.97" fill="#4682B4"/>
<rect x="359.9" y="525.98" width="31.1" height="5.97" fill="#4682B4"/>
<rect x="391" y="532.62" width="15.4" height="5.97" fill="#4682B4"/>
<rect x="368" y="539.26" width="23" height="5.97" fill="#4682B4"/>
<rect x="390.4" y="545.89" width="0.6" height="5.97" fill="#4682B4"/>
<rect x="373.9" y="552.53" width="17.1" height="5.97" fill="#4682B4"/>
<rect x="391" y="559.17" width="6.9" height="5.97" fill="#4682B4"/>
<rect x="391" y="565.81" width="10.9" height="5.97" fill="#4682B4"/>
<rect x="391" y="572.45" width="6.4" height="5.97" fill="#4682B4"/>
<rect x="367.4" y="579.08" width="23.6" height="5.97" fill="#4682B4"/>
<rect x="379.9" y="585.72" width="11.1" height="5.97" fill="#4682B4"/>
<rect x="391" y="592.36" width="3.7" height="5.97" fill="#4682B4"/>
<rect x="378.9" y="599" width="12.1" height="5.97" fill="#4682B4"/>
<rect x="391" y="605.64" width="21" height="5.97" fill="#4682B4"/>
<rect x="391" y="612.27" width="4.3" height="5.97" fill="#4682B4"/>
<rect x="388" y="618.91" width="3" height="5.97" fill="#4682B4"/>
<rect x="389.6" y="625.55" width="1.4" height="5.97" fill="#4682B4"/>
<rect x="387.1" y="632.19" width="3.9" height="5.97" fill="#4682B4"/>
<rect x="391" y="638.83" width="15.7" height="5.97" fill="#4682B4"/>
<rect x="373.3" y="645.46" width="17.7" height="5.97" fill="#4682B4"/>
<rect x="391" y="652.1" width="9.4" height="5.97" fill="#4682B4"/>
<rect x="391" y="658.74" width="0.9" height="5.97" fill="#4682B4"/>
<rect x="391" y="665.38" width="8.7" height="5.97" fill="#4682B4"/>
<rect x="390.3" y="672.02" width="0.7" height="5.97" fill="#4682B4"/>
<rect x="391" y="678.65" width="34.6" height="5.97" fill="#4682B4"/>
<rect x="391" y="685.29" width="31.1" height="5.97" fill="#4682B4"/>
<rect x="391" y="691.93" width="18.4" height="5.97" fill="#4682B4"/>
<rect x="391" y="698.57" width="0.8" height="5.97" fill="#4682B4"/>
<rect x="387.4" y="705.21" width="3.6" height="5.97" fill="#4682B4"/>
<rect x="376.7" y="711.84" width="14.3" height="5.97" fill="#4682B4"/>
<rect x="391" y="718.48" width="38.3" height="5.97" fill="#4682B4"/>
<rect x="391" y="725.12" width="178.9" height="5.97" fill="#4682B4"/>
<rect x="391" y="731.76" width="251.9" height="5.97" fill="#4682B4"/>
<rect x="391" y="738.4" width="227" height="5.97" fill="#4682B4"/>
<rect x="391" y="745.03" width="223" height="5.97" fill="#4682B4"/>
<line x1="391" y1="751.6" x2="391" y2="405.75" stroke="#000" stroke-width="1.0" stroke-dasharray="3.43 3.43"/>
<rect x="32.4" y="405.75" width="652.2" height="345.85" fill="none" stroke="#333" stroke-width="1.1"/>
<line x1="29.4" y1="409.48" x2="32.4" y2="409.48" stroke="#333" stroke-width="1.07"/>
<text x="27.3" y="412.98" font-size="8.3" text-anchor="end" fill="#4D4D4D" stroke="#4D4D4D" stroke-width="0.2">b2</text>
<line x1="29.4" y1="416.12" x2="32.4" y2="416.12" stroke="#333" stroke-width="1.07"/>
<text x="27.3" y="419.62" font-size="8.3" text-anchor="end" fill="#4D4D4D" stroke="#4D4D4D" stroke-width="0.2">n9</text>
<line x1="29.4" y1="422.76" x2="32.4" y2="422.76" stroke="#333" stroke-width="1.07"/>
<text x="27.3" y="426.26" font-size="8.3" text-anchor="end" fill="#4D4D4D" stroke="#4D4D4D" stroke-width="0.2">n8</text>
<line x1="29.4" y1="429.4" x2="32.4" y2="429.4" stroke="#333" stroke-width="1.07"/>
<text x="27.3" y="432.9" font-size="8.3" text-anchor="end" fill="#4D4D4D" stroke="#4D4D4D" stroke-width="0.2">n4</text>
<line x1="29.4" y1="436.03" x2="32.4" y2="436.03" stroke="#333" stroke-width="1.07"/>
<text x="27.3" y="439.53" font-size="8.3" text-anchor="end" fill="#4D4D4D" stroke="#4D4D4D" stroke-width="0.2">i8</text>
<line x1="29.4" y1="442.67" x2="32.4" y2="442.67" stroke="#333" stroke-width="1.07"/>
<text x="27.3" y="446.17" font-size="8.3" text-anchor="end" fill="#4D4D4D" stroke="#4D4D4D" stroke-width="0.2">n1</text>
<line x1="29.4" y1="449.31" x2="32.4" y2="449.31" stroke="#333" stroke-width="1.07"/>
<text x="27.3" y="452.81" font-size="8.3" text-anchor="end" fill="#4D4D4D" stroke="#4D4D4D" stroke-width="0.2">i10</text>
<line x1="29.4" y1="455.95" x2="32.4" y2="455.95" stroke="#333" stroke-width="1.07"/>
<text x="27.3" y="459.45" font-size="8.3" text-anchor="end" fill="#4D4D4D" stroke="#4D4D4D" stroke-width="0.2">a10</text>
<line x1="29.4" y1="462.59" x2="32.4" y2="462.59" stroke="#333" stroke-width="1.07"/>
<text x="27.3" y="466.09" font-size="8.3" text-anchor="end" fill="#4D4D4D" stroke="#4D4D4D" stroke-width="0.2">i15</text>
<line x1="29.4" y1="469.22" x2="32.4" y2="469.22" stroke="#333" stroke-width="1.07"/>
<text x="27.3" y="472.72" font-size="8.3" text-anchor="end" fill="#4D4D4D" stroke="#4D4D4D" stroke-width="0.2">i9</text>
<line x1="29.4" y1="475.86" x2="32.4" y2="475.86" stroke="#333" stroke-width="1.07"/>
<text x="27.3" y="479.36" font-size="8.3" text-anchor="end" fill="#4D4D4D" stroke="#4D4D4D" stroke-width="0.2">i1</text>
<line x1="29.4" y1="482.5" x2="32.4" y2="482.5" stroke="#333" stroke-width="1.07"/>
<text x="27.3" y="486" font-size="8.3" text-anchor="end" fill="#4D4D4D" stroke="#4D4D4D" stroke-width="0.2">ag</text>
<line x1="29.4" y1="489.14" x2="32.4" y2="489.14" stroke="#333" stroke-width="1.07"/>
<text x="27.3" y="492.64" font-size="8.3" text-anchor="end" fill="#4D4D4D" stroke="#4D4D4D" stroke-width="0.2">i4</text>
<line x1="29.4" y1="495.78" x2="32.4" y2="495.78" stroke="#333" stroke-width="1.07"/>
<text x="27.3" y="499.28" font-size="8.3" text-anchor="end" fill="#4D4D4D" stroke="#4D4D4D" stroke-width="0.2">i17</text>
<line x1="29.4" y1="502.41" x2="32.4" y2="502.41" stroke="#333" stroke-width="1.07"/>
<text x="27.3" y="505.91" font-size="8.3" text-anchor="end" fill="#4D4D4D" stroke="#4D4D4D" stroke-width="0.2">n2</text>
<line x1="29.4" y1="509.05" x2="32.4" y2="509.05" stroke="#333" stroke-width="1.07"/>
<text x="27.3" y="512.55" font-size="8.3" text-anchor="end" fill="#4D4D4D" stroke="#4D4D4D" stroke-width="0.2">b6</text>
<line x1="29.4" y1="515.69" x2="32.4" y2="515.69" stroke="#333" stroke-width="1.07"/>
<text x="27.3" y="519.19" font-size="8.3" text-anchor="end" fill="#4D4D4D" stroke="#4D4D4D" stroke-width="0.2">e5</text>
<line x1="29.4" y1="522.33" x2="32.4" y2="522.33" stroke="#333" stroke-width="1.07"/>
<text x="27.3" y="525.83" font-size="8.3" text-anchor="end" fill="#4D4D4D" stroke="#4D4D4D" stroke-width="0.2">b4</text>
<line x1="29.4" y1="528.97" x2="32.4" y2="528.97" stroke="#333" stroke-width="1.07"/>
<text x="27.3" y="532.47" font-size="8.3" text-anchor="end" fill="#4D4D4D" stroke="#4D4D4D" stroke-width="0.2">ac0</text>
<line x1="29.4" y1="535.6" x2="32.4" y2="535.6" stroke="#333" stroke-width="1.07"/>
<text x="27.3" y="539.1" font-size="8.3" text-anchor="end" fill="#4D4D4D" stroke="#4D4D4D" stroke-width="0.2">i12</text>
<line x1="29.4" y1="542.24" x2="32.4" y2="542.24" stroke="#333" stroke-width="1.07"/>
<text x="27.3" y="545.74" font-size="8.3" text-anchor="end" fill="#4D4D4D" stroke="#4D4D4D" stroke-width="0.2">i14</text>
<line x1="29.4" y1="548.88" x2="32.4" y2="548.88" stroke="#333" stroke-width="1.07"/>
<text x="27.3" y="552.38" font-size="8.3" text-anchor="end" fill="#4D4D4D" stroke="#4D4D4D" stroke-width="0.2">a7</text>
<line x1="29.4" y1="555.52" x2="32.4" y2="555.52" stroke="#333" stroke-width="1.07"/>
<text x="27.3" y="559.02" font-size="8.3" text-anchor="end" fill="#4D4D4D" stroke="#4D4D4D" stroke-width="0.2">a2</text>
<line x1="29.4" y1="562.16" x2="32.4" y2="562.16" stroke="#333" stroke-width="1.07"/>
<text x="27.3" y="565.66" font-size="8.3" text-anchor="end" fill="#4D4D4D" stroke="#4D4D4D" stroke-width="0.2">b5</text>
<line x1="29.4" y1="568.79" x2="32.4" y2="568.79" stroke="#333" stroke-width="1.07"/>
<text x="27.3" y="572.29" font-size="8.3" text-anchor="end" fill="#4D4D4D" stroke="#4D4D4D" stroke-width="0.2">e1</text>
<line x1="29.4" y1="575.43" x2="32.4" y2="575.43" stroke="#333" stroke-width="1.07"/>
<text x="27.3" y="578.93" font-size="8.3" text-anchor="end" fill="#4D4D4D" stroke="#4D4D4D" stroke-width="0.2">a5</text>
<line x1="29.4" y1="582.07" x2="32.4" y2="582.07" stroke="#333" stroke-width="1.07"/>
<text x="27.3" y="585.57" font-size="8.3" text-anchor="end" fill="#4D4D4D" stroke="#4D4D4D" stroke-width="0.2">i2</text>
<line x1="29.4" y1="588.71" x2="32.4" y2="588.71" stroke="#333" stroke-width="1.07"/>
<text x="27.3" y="592.21" font-size="8.3" text-anchor="end" fill="#4D4D4D" stroke="#4D4D4D" stroke-width="0.2">i3</text>
<line x1="29.4" y1="595.35" x2="32.4" y2="595.35" stroke="#333" stroke-width="1.07"/>
<text x="27.3" y="598.85" font-size="8.3" text-anchor="end" fill="#4D4D4D" stroke="#4D4D4D" stroke-width="0.2">a6</text>
<line x1="29.4" y1="601.98" x2="32.4" y2="601.98" stroke="#333" stroke-width="1.07"/>
<text x="27.3" y="605.48" font-size="8.3" text-anchor="end" fill="#4D4D4D" stroke="#4D4D4D" stroke-width="0.2">i6</text>
<line x1="29.4" y1="608.62" x2="32.4" y2="608.62" stroke="#333" stroke-width="1.07"/>
<text x="27.3" y="612.12" font-size="8.3" text-anchor="end" fill="#4D4D4D" stroke="#4D4D4D" stroke-width="0.2">e4</text>
<line x1="29.4" y1="615.26" x2="32.4" y2="615.26" stroke="#333" stroke-width="1.07"/>
<text x="27.3" y="618.76" font-size="8.3" text-anchor="end" fill="#4D4D4D" stroke="#4D4D4D" stroke-width="0.2">ag0</text>
<line x1="29.4" y1="621.9" x2="32.4" y2="621.9" stroke="#333" stroke-width="1.07"/>
<text x="27.3" y="625.4" font-size="8.3" text-anchor="end" fill="#4D4D4D" stroke="#4D4D4D" stroke-width="0.2">n5</text>
<line x1="29.4" y1="628.54" x2="32.4" y2="628.54" stroke="#333" stroke-width="1.07"/>
<text x="27.3" y="632.04" font-size="8.3" text-anchor="end" fill="#4D4D4D" stroke="#4D4D4D" stroke-width="0.2">i16</text>
<line x1="29.4" y1="635.17" x2="32.4" y2="635.17" stroke="#333" stroke-width="1.07"/>
<text x="27.3" y="638.67" font-size="8.3" text-anchor="end" fill="#4D4D4D" stroke="#4D4D4D" stroke-width="0.2">a9</text>
<line x1="29.4" y1="641.81" x2="32.4" y2="641.81" stroke="#333" stroke-width="1.07"/>
<text x="27.3" y="645.31" font-size="8.3" text-anchor="end" fill="#4D4D4D" stroke="#4D4D4D" stroke-width="0.2">i7</text>
<line x1="29.4" y1="648.45" x2="32.4" y2="648.45" stroke="#333" stroke-width="1.07"/>
<text x="27.3" y="651.95" font-size="8.3" text-anchor="end" fill="#4D4D4D" stroke="#4D4D4D" stroke-width="0.2">a1</text>
<line x1="29.4" y1="655.09" x2="32.4" y2="655.09" stroke="#333" stroke-width="1.07"/>
<text x="27.3" y="658.59" font-size="8.3" text-anchor="end" fill="#4D4D4D" stroke="#4D4D4D" stroke-width="0.2">a3</text>
<line x1="29.4" y1="661.73" x2="32.4" y2="661.73" stroke="#333" stroke-width="1.07"/>
<text x="27.3" y="665.23" font-size="8.3" text-anchor="end" fill="#4D4D4D" stroke="#4D4D4D" stroke-width="0.2">n7</text>
<line x1="29.4" y1="668.36" x2="32.4" y2="668.36" stroke="#333" stroke-width="1.07"/>
<text x="27.3" y="671.86" font-size="8.3" text-anchor="end" fill="#4D4D4D" stroke="#4D4D4D" stroke-width="0.2">e2</text>
<line x1="29.4" y1="675" x2="32.4" y2="675" stroke="#333" stroke-width="1.07"/>
<text x="27.3" y="678.5" font-size="8.3" text-anchor="end" fill="#4D4D4D" stroke="#4D4D4D" stroke-width="0.2">ac</text>
<line x1="29.4" y1="681.64" x2="32.4" y2="681.64" stroke="#333" stroke-width="1.07"/>
<text x="27.3" y="685.14" font-size="8.3" text-anchor="end" fill="#4D4D4D" stroke="#4D4D4D" stroke-width="0.2">n6</text>
<line x1="29.4" y1="688.28" x2="32.4" y2="688.28" stroke="#333" stroke-width="1.07"/>
<text x="27.3" y="691.78" font-size="8.3" text-anchor="end" fill="#4D4D4D" stroke="#4D4D4D" stroke-width="0.2">a4</text>
<line x1="29.4" y1="694.92" x2="32.4" y2="694.92" stroke="#333" stroke-width="1.07"/>
<text x="27.3" y="698.42" font-size="8.3" text-anchor="end" fill="#4D4D4D" stroke="#4D4D4D" stroke-width="0.2">i5</text>
<line x1="29.4" y1="701.55" x2="32.4" y2="701.55" stroke="#333" stroke-width="1.07"/>
<text x="27.3" y="705.05" font-size="8.3" text-anchor="end" fill="#4D4D4D" stroke="#4D4D4D" stroke-width="0.2">i13</text>
<line x1="29.4" y1="708.19" x2="32.4" y2="708.19" stroke="#333" stroke-width="1.07"/>
<text x="27.3" y="711.69" font-size="8.3" text-anchor="end" fill="#4D4D4D" stroke="#4D4D4D" stroke-width="0.2">i11</text>
<line x1="29.4" y1="714.83" x2="32.4" y2="714.83" stroke="#333" stroke-width="1.07"/>
<text x="27.3" y="718.33" font-size="8.3" text-anchor="end" fill="#4D4D4D" stroke="#4D4D4D" stroke-width="0.2">a8</text>
<line x1="29.4" y1="721.47" x2="32.4" y2="721.47" stroke="#333" stroke-width="1.07"/>
<text x="27.3" y="724.97" font-size="8.3" text-anchor="end" fill="#4D4D4D" stroke="#4D4D4D" stroke-width="0.2">e3</text>
<line x1="29.4" y1="728.11" x2="32.4" y2="728.11" stroke="#333" stroke-width="1.07"/>
<text x="27.3" y="731.61" font-size="8.3" text-anchor="end" fill="#4D4D4D" stroke="#4D4D4D" stroke-width="0.2">n3</text>
<line x1="29.4" y1="734.74" x2="32.4" y2="734.74" stroke="#333" stroke-width="1.07"/>
<text x="27.3" y="738.24" font-size="8.3" text-anchor="end" fill="#4D4D4D" stroke="#4D4D4D" stroke-width="0.2">b1</text>
<line x1="29.4" y1="741.38" x2="32.4" y2="741.38" stroke="#333" stroke-width="1.07"/>
<text x="27.3" y="744.88" font-size="8.3" text-anchor="end" fill="#4D4D4D" stroke="#4D4D4D" stroke-width="0.2">a11</text>
<line x1="29.4" y1="748.02" x2="32.4" y2="748.02" stroke="#333" stroke-width="1.07"/>
<text x="27.3" y="751.52" font-size="8.3" text-anchor="end" fill="#4D4D4D" stroke="#4D4D4D" stroke-width="0.2">b3</text>
<rect x="32.4" y="757.65" width="652.2" height="17.35" fill="#D9D9D9" stroke="#333" stroke-width="1.1"/>
<text x="358.4" y="769.73" font-size="9.13" font-weight="bold" text-anchor="middle" fill="#1A1A1A">P</text>
<line x1="103.75" y1="775" x2="103.75" y2="1121.1" stroke="#EBEBEB" stroke-width="0.71"/>
<line x1="295.25" y1="775" x2="295.25" y2="1121.1" stroke="#EBEBEB" stroke-width="0.71"/>
<line x1="486.75" y1="775" x2="486.75" y2="1121.1" stroke="#EBEBEB" stroke-width="0.71"/>
<line x1="678.25" y1="775" x2="678.25" y2="1121.1" stroke="#EBEBEB" stroke-width="0.71"/>
<line x1="32.4" y1="778.78" x2="684.6" y2="778.78" stroke="#EBEBEB" stroke-width="1.42"/>
<line x1="32.4" y1="785.42" x2="684.6" y2="785.42" stroke="#EBEBEB" stroke-width="1.42"/>
<line x1="32.4" y1="792.06" x2="684.6" y2="792.06" stroke="#EBEBEB" stroke-width="1.42"/>
<line x1="32.4" y1="798.7" x2="684.6" y2="798.7" stroke="#EBEBEB" stroke-width="1.42"/>
<line x1="32.4" y1="805.33" x2="684.6" y2="805.33" stroke="#EBEBEB" stroke-width="1.42"/>
<line x1="32.4" y1="811.97" x2="684.6" y2="811.97" stroke="#EBEBEB" stroke-width="1.42"/>
<line x1="32.4" y1="818.61" x2="684.6" y2="818.61" stroke="#EBEBEB" stroke-width="1.42"/>
<line x1="32.4" y1="825.25" x2="684.6" y2="825.25" stroke="#EBEBEB" stroke-width="1.42"/>
<line x1="32.4" y1="831.89" x2="684.6" y2="831.89" stroke="#EBEBEB" stroke-width="1.42"/>
<line x1="32.4" y1="838.52" x2="684.6" y2="838.52" stroke="#EBEBEB" stroke-width="1.42"/>
<line x1="32.4" y1="845.16" x2="684.6" y2="845.16" stroke="#EBEBEB" stroke-width="1.42"/>
<line x1="32.4" y1="851.8" x2="684.6" y2="851.8" stroke="#EBEBEB" stroke-width="1.42"/>
<line x1="32.4" y1="858.44" x2="684.6" y2="858.44" stroke="#EBEBEB" stroke-width="1.42"/>
<line x1="32.4" y1="865.08" x2="684.6" y2="865.08" stroke="#EBEBEB" stroke-width="1.42"/>
<line x1="32.4" y1="871.71" x2="684.6" y2="871.71" stroke="#EBEBEB" stroke-width="1.42"/>
<line x1="32.4" y1="878.35" x2="684.6" y2="878.35" stroke="#EBEBEB" stroke-width="1.42"/>
<line x1="32.4" y1="884.99" x2="684.6" y2="884.99" stroke="#EBEBEB" stroke-width="1.42"/>
<line x1="32.4" y1="891.63" x2="684.6" y2="891.63" stroke="#EBEBEB" stroke-width="1.42"/>
<line x1="32.4" y1="898.27" x2="684.6" y2="898.27" stroke="#EBEBEB" stroke-width="1.42"/>
<line x1="32.4" y1="904.9" x2="684.6" y2="904.9" stroke="#EBEBEB" stroke-width="1.42"/>
<line x1="32.4" y1="911.54" x2="684.6" y2="911.54" stroke="#EBEBEB" stroke-width="1.42"/>
<line x1="32.4" y1="918.18" x2="684.6" y2="918.18" stroke="#EBEBEB" stroke-width="1.42"/>
<line x1="32.4" y1="924.82" x2="684.6" y2="924.82" stroke="#EBEBEB" stroke-width="1.42"/>
<line x1="32.4" y1="931.46" x2="684.6" y2="931.46" stroke="#EBEBEB" stroke-width="1.42"/>
<line x1="32.4" y1="938.09" x2="684.6" y2="938.09" stroke="#EBEBEB" stroke-width="1.42"/>
<line x1="32.4" y1="944.73" x2="684.6" y2="944.73" stroke="#EBEBEB" stroke-width="1.42"/>
<line x1="32.4" y1="951.37" x2="684.6" y2="951.37" stroke="#EBEBEB" stroke-width="1.42"/>
<line x1="32.4" y1="958.01" x2="684.6" y2="958.01" stroke="#EBEBEB" stroke-width="1.42"/>
<line x1="32.4" y1="964.65" x2="684.6" y2="964.65" stroke="#EBEBEB" stroke-width="1.42"/>
<line x1="32.4" y1="971.28" x2="684.6" y2="971.28" stroke="#EBEBEB" stroke-width="1.42"/>
<line x1="32.4" y1="977.92" x2="684.6" y2="977.92" stroke="#EBEBEB" stroke-width="1.42"/>
<line x1="32.4" y1="984.56" x2="684.6" y2="984.56" stroke="#EBEBEB" stroke-width="1.42"/>
<line x1="32.4" y1="991.2" x2="684.6" y2="991.2" stroke="#EBEBEB" stroke-width="1.42"/>
<line x1="32.4" y1="997.84" x2="684.6" y2="997.84" stroke="#EBEBEB" stroke-width="1.42"/>
<line x1="32.4" y1="1004.47" x2="684.6" y2="1004.47" stroke="#EBEBEB" stroke-width="1.42"/>
<line x1="32.4" y1="1011.11" x2="684.6" y2="1011.11" stroke="#EBEBEB" stroke-width="1.42"/>
<line x1="32.4" y1="1017.75" x2="684.6" y2="1017.75" stroke="#EBEBEB" stroke-width="1.42"/>
<line x1="32.4" y1="1024.39" x2="684.6" y2="1024.39" stroke="#EBEBEB" stroke-width="1.42"/>
<line x1="32.4" y1="1031.03" x2="684.6" y2="1031.03" stroke="#EBEBEB" stroke-width="1.42"/>
<line x1="32.4" y1="1037.66" x2="684.6" y2="1037.66" stroke="#EBEBEB" stroke-width="1.42"/>
<line x1="32.4" y1="1044.3" x2="684.6" y2="1044.3" stroke="#EBEBEB" stroke-width="1.42"/>
<line x1="32.4" y1="1050.94" x2="684.6" y2="1050.94" stroke="#EBEBEB" stroke-width="1.42"/>
<line x1="32.4" y1="1057.58" x2="684.6" y2="1057.58" stroke="#EBEBEB" stroke-width="1.42"/>
<line x1="32.4" y1="1064.22" x2="684.6" y2="1064.22" stroke="#EBEBEB" stroke-width="1.42"/>
<line x1="32.4" y1="1070.85" x2="684.6" y2="1070.85" stroke="#EBEBEB" stroke-width="1.42"/>
<line x1="32.4" y1="1077.49" x2="684.6" y2="1077.49" stroke="#EBEBEB" stroke-width="1.42"/>
<line x1="32.4" y1="1084.13" x2="684.6" y2="1084.13" stroke="#EBEBEB" stroke-width="1.42"/>
<line x1="32.4" y1="1090.77" x2="684.6" y2="1090.77" stroke="#EBEBEB" stroke-width="1.42"/>
<line x1="32.4" y1="1097.41" x2="684.6" y2="1097.41" stroke="#EBEBEB" stroke-width="1.42"/>
<line x1="32.4" y1="1104.04" x2="684.6" y2="1104.04" stroke="#EBEBEB" stroke-width="1.42"/>
<line x1="32.4" y1="1110.68" x2="684.6" y2="1110.68" stroke="#EBEBEB" stroke-width="1.42"/>
<line x1="32.4" y1="1117.32" x2="684.6" y2="1117.32" stroke="#EBEBEB" stroke-width="1.42"/>
<line x1="199.5" y1="775" x2="199.5" y2="1121.1" stroke="#EBEBEB" stroke-width="1.42"/>
<line x1="391" y1="775" x2="391" y2="1121.1" stroke="#EBEBEB" stroke-width="1.42"/>
<line x1="582.5" y1="775" x2="582.5" y2="1121.1" stroke="#EBEBEB" stroke-width="1.42"/>
<rect x="391" y="775.8" width="263.9" height="5.97" fill="#4682B4"/>
<rect x="391" y="782.43" width="153.2" height="5.97" fill="#4682B4"/>
<rect x="391" y="789.07" width="60.4" height="5.97" fill="#4682B4"/>
<rect x="391" y="795.71" width="170.8" height="5.97" fill="#4682B4"/>
<rect x="391" y="802.35" width="10.1" height="5.97" fill="#4682B4"/>
<rect x="391" y="808.99" width="149.9" height="5.97" fill="#4682B4"/>
<rect x="391" y="815.62" width="10.8" height="5.97" fill="#4682B4"/>
<rect x="376.1" y="822.26" width="14.9" height="5.97" fill="#4682B4"/>
<rect x="391" y="828.9" width="13" height="5.97" fill="#4682B4"/>
<rect x="391" y="835.54" width="18.1" height="5.97" fill="#4682B4"/>
<rect x="387.1" y="842.18" width="3.9" height="5.97" fill="#4682B4"/>
<rect x="391" y="848.81" width="26.7" height="5.97" fill="#4682B4"/>
<rect x="383.9" y="855.45" width="7.1" height="5.97" fill="#4682B4"/>
<rect x="391" y="862.09" width="47" height="5.97" fill="#4682B4"/>
<rect x="391" y="868.73" width="19.8" height="5.97" fill="#4682B4"/>
<rect x="391" y="875.37" width="25.7" height="5.97" fill="#4682B4"/>
<rect x="391" y="882" width="32" height="5.97" fill="#4682B4"/>
<rect x="391" y="888.64" width="21.9" height="5.97" fill="#4682B4"/>
<rect x="391" y="895.28" width="24.8" height="5.97" fill="#4682B4"/>
<rect x="379" y="901.92" width="12" height="5.97" fill="#4682B4"/>
<rect x="391" y="908.56" width="24.6" height="5.97" fill="#4682B4"/>
<rect x="388.4" y="915.19" width="2.6" height="5.97" fill="#4682B4"/>
<rect x="391" y="921.83" width="23" height="5.97" fill="#4682B4"/>
<rect x="376.1" y="928.47" width="14.9" height="5.97" fill="#4682B4"/>
<rect x="383.1" y="935.11" width="7.9" height="5.97" fill="#4682B4"/>
<rect x="385.4" y="941.75" width="5.6" height="5.97" fill="#4682B4"/>
<rect x="391" y="948.38" width="14.7" height="5.97" fill="#4682B4"/>
<rect x="388.2" y="955.02" width="2.8" height="5.97" fill="#4682B4"/>
<rect x="385.1" y="961.66" width="5.9" height="5.97" fill="#4682B4"/>
<rect x="391" y="968.3" width="7.5" height="5.97" fill="#4682B4"/>
<rect x="380.1" y="974.94" width="10.9" height="5.97" fill="#4682B4"/>
<rect x="383.1" y="981.57" width="7.9" height="5.97" fill="#4682B4"/>
<rect x="389.6" y="988.21" width="1.4" height="5.97" fill="#4682B4"/>
<rect x="391" y="994.85" width="1.7" height="5.97" fill="#4682B4"/>
<rect x="391" y="1001.49" width="3.7" height="5.97" fill="#4682B4"/>
<rect x="369.9" y="1008.13" width="21.1" height="5.97" fill="#4682B4"/>
<rect x="391" y="1014.76" width="13.1" height="5.97" fill="#4682B4"/>
<rect x="375.8" y="1021.4" width="15.2" height="5.97" fill="#4682B4"/>
<rect x="391" y="1028.04" width="0.7" height="5.97" fill="#4682B4"/>
<rect x="366.8" y="1034.68" width="24.2" height="5.97" fill="#4682B4"/>
<rect x="378" y="1041.32" width="13" height="5.97" fill="#4682B4"/>
<rect x="357.2" y="1047.95" width="33.8" height="5.97" fill="#4682B4"/>
<rect x="365.1" y="1054.59" width="25.9" height="5.97" fill="#4682B4"/>
<rect x="375.2" y="1061.23" width="15.8" height="5.97" fill="#4682B4"/>
<rect x="391" y="1067.87" width="20.8" height="5.97" fill="#4682B4"/>
<rect x="391" y="1074.51" width="6.6" height="5.97" fill="#4682B4"/>
<rect x="386.9" y="1081.14" width="4.1" height="5.97" fill="#4682B4"/>
<rect x="352.2" y="1087.78" width="38.8" height="5.97" fill="#4682B4"/>
<rect x="199.9" y="1094.42" width="191.1" height="5.97" fill="#4682B4"/>
<rect x="136" y="1101.06" width="255" height="5.97" fill="#4682B4"/>
<rect x="291.7" y="1107.7" width="99.3" height="5.97" fill="#4682B4"/>
<rect x="131" y="1114.33" width="260" height="5.97" fill="#4682B4"/>
<line x1="391" y1="1121.1" x2="391" y2="775" stroke="#000" stroke-width="1.0" stroke-dasharray="3.43 3.43"/>
<rect x="32.4" y="775" width="652.2" height="346.1" fill="none" stroke="#333" stroke-width="1.1"/>
<line x1="29.4" y1="778.78" x2="32.4" y2="778.78" stroke="#333" stroke-width="1.07"/>
<text x="27.3" y="782.28" font-size="8.3" text-anchor="end" fill="#4D4D4D" stroke="#4D4D4D" stroke-width="0.2">b2</text>
<line x1="29.4" y1="785.42" x2="32.4" y2="785.42" stroke="#333" stroke-width="1.07"/>
<text x="27.3" y="788.92" font-size="8.3" text-anchor="end" fill="#4D4D4D" stroke="#4D4D4D" stroke-width="0.2">n9</text>
<line x1="29.4" y1="792.06" x2="32.4" y2="792.06" stroke="#333" stroke-width="1.07"/>
<text x="27.3" y="795.56" font-size="8.3" text-anchor="end" fill="#4D4D4D" stroke="#4D4D4D" stroke-width="0.2">n8</text>
<line x1="29.4" y1="798.7" x2="32.4" y2="798.7" stroke="#333" stroke-width="1.07"/>
<text x="27.3" y="802.2" font-size="8.3" text-anchor="end" fill="#4D4D4D" stroke="#4D4D4D" stroke-width="0.2">n4</text>
<line x1="29.4" y1="805.33" x2="32.4" y2="805.33" stroke="#333" stroke-width="1.07"/>
<text x="27.3" y="808.83" font-size="8.3" text-anchor="end" fill="#4D4D4D" stroke="#4D4D4D" stroke-width="0.2">i8</text>
<line x1="29.4" y1="811.97" x2="32.4" y2="811.97" stroke="#333" stroke-width="1.07"/>
<text x="27.3" y="815.47" font-size="8.3" text-anchor="end" fill="#4D4D4D" stroke="#4D4D4D" stroke-width="0.2">n1</text>
<line x1="29.4" y1="818.61" x2="32.4" y2="818.61" stroke="#333" stroke-width="1.07"/>
<text x="27.3" y="822.11" font-size="8.3" text-anchor="end" fill="#4D4D4D" stroke="#4D4D4D" stroke-width="0.2">i10</text>
<line x1="29.4" y1="825.25" x2="32.4" y2="825.25" stroke="#333" stroke-width="1.07"/>
<text x="27.3" y="828.75" font-size="8.3" text-anchor="end" fill="#4D4D4D" stroke="#4D4D4D" stroke-width="0.2">a10</text>
<line x1="29.4" y1="831.89" x2="32.4" y2="831.89" stroke="#333" stroke-width="1.07"/>
<text x="27.3" y="835.39" font-size="8.3" text-anchor="end" fill="#4D4D4D" stroke="#4D4D4D" stroke-width="0.2">i15</text>
<line x1="29.4" y1="838.52" x2="32.4" y2="838.52" stroke="#333" stroke-width="1.07"/>
<text x="27.3" y="842.02" font-size="8.3" text-anchor="end" fill="#4D4D4D" stroke="#4D4D4D" stroke-width="0.2">i9</text>
<line x1="29.4" y1="845.16" x2="32.4" y2="845.16" stroke="#333" stroke-width="1.07"/>
<text x="27.3" y="848.66" font-size="8.3" text-anchor="end" fill="#4D4D4D" stroke="#4D4D4D" stroke-width="0.2">i1</text>
<line x1="29.4" y1="851.8" x2="32.4" y2="851.8" stroke="#333" stroke-width="1.07"/>
<text x="27.3" y="855.3" font-size="8.3" text-anchor="end" fill="#4D4D4D" stroke="#4D4D4D" stroke-width="0.2">ag</text>
<line x1="29.4" y1="858.44" x2="32.4" y2="858.44" stroke="#333" stroke-width="1.07"/>
<text x="27.3" y="861.94" font-size="8.3" text-anchor="end" fill="#4D4D4D" stroke="#4D4D4D" stroke-width="0.2">i4</text>
<line x1="29.4" y1="865.08" x2="32.4" y2="865.08" stroke="#333" stroke-width="1.07"/>
<text x="27.3" y="868.58" font-size="8.3" text-anchor="end" fill="#4D4D4D" stroke="#4D4D4D" stroke-width="0.2">i17</text>
<line x1="29.4" y1="871.71" x2="32.4" y2="871.71" stroke="#333" stroke-width="1.07"/>
<text x="27.3" y="875.21" font-size="8.3" text-anchor="end" fill="#4D4D4D" stroke="#4D4D4D" stroke-width="0.2">n2</text>
<line x1="29.4" y1="878.35" x2="32.4" y2="878.35" stroke="#333" stroke-width="1.07"/>
<text x="27.3" y="881.85" font-size="8.3" text-anchor="end" fill="#4D4D4D" stroke="#4D4D4D" stroke-width="0.2">b6</text>
<line x1="29.4" y1="884.99" x2="32.4" y2="884.99" stroke="#333" stroke-width="1.07"/>
<text x="27.3" y="888.49" font-size="8.3" text-anchor="end" fill="#4D4D4D" stroke="#4D4D4D" stroke-width="0.2">e5</text>
<line x1="29.4" y1="891.63" x2="32.4" y2="891.63" stroke="#333" stroke-width="1.07"/>
<text x="27.3" y="895.13" font-size="8.3" text-anchor="end" fill="#4D4D4D" stroke="#4D4D4D" stroke-width="0.2">b4</text>
<line x1="29.4" y1="898.27" x2="32.4" y2="898.27" stroke="#333" stroke-width="1.07"/>
<text x="27.3" y="901.77" font-size="8.3" text-anchor="end" fill="#4D4D4D" stroke="#4D4D4D" stroke-width="0.2">ac0</text>
<line x1="29.4" y1="904.9" x2="32.4" y2="904.9" stroke="#333" stroke-width="1.07"/>
<text x="27.3" y="908.4" font-size="8.3" text-anchor="end" fill="#4D4D4D" stroke="#4D4D4D" stroke-width="0.2">i12</text>
<line x1="29.4" y1="911.54" x2="32.4" y2="911.54" stroke="#333" stroke-width="1.07"/>
<text x="27.3" y="915.04" font-size="8.3" text-anchor="end" fill="#4D4D4D" stroke="#4D4D4D" stroke-width="0.2">i14</text>
<line x1="29.4" y1="918.18" x2="32.4" y2="918.18" stroke="#333" stroke-width="1.07"/>
<text x="27.3" y="921.68" font-size="8.3" text-anchor="end" fill="#4D4D4D" stroke="#4D4D4D" stroke-width="0.2">a7</text>
<line x1="29.4" y1="924.82" x2="32.4" y2="924.82" stroke="#333" stroke-width="1.07"/>
<text x="27.3" y="928.32" font-size="8.3" text-anchor="end" fill="#4D4D4D" stroke="#4D4D4D" stroke-width="0.2">a2</text>
<line x1="29.4" y1="931.46" x2="32.4" y2="931.46" stroke="#333" stroke-width="1.07"/>
<text x="27.3" y="934.96" font-size="8.3" text-anchor="end" fill="#4D4D4D" stroke="#4D4D4D" stroke-width="0.2">b5</text>
<line x1="29.4" y1="938.09" x2="32.4" y2="938.09" stroke="#333" stroke-width="1.07"/>
<text x="27.3" y="941.59" font-size="8.3" text-anchor="end" fill="#4D4D4D" stroke="#4D4D4D" stroke-width="0.2">e1</text>
<line x1="29.4" y1="944.73" x2="32.4" y2="944.73" stroke="#333" stroke-width="1.07"/>
<text x="27.3" y="948.23" font-size="8.3" text-anchor="end" fill="#4D4D4D" stroke="#4D4D4D" stroke-width="0.2">a5</text>
<line x1="29.4" y1="951.37" x2="32.4" y2="951.37" stroke="#333" stroke-width="1.07"/>
<text x="27.3" y="954.87" font-size="8.3" text-anchor="end" fill="#4D4D4D" stroke="#4D4D4D" stroke-width="0.2">i2</text>
<line x1="29.4" y1="958.01" x2="32.4" y2="958.01" stroke="#333" stroke-width="1.07"/>
<text x="27.3" y="961.51" font-size="8.3" text-anchor="end" fill="#4D4D4D" stroke="#4D4D4D" stroke-width="0.2">i3</text>
<line x1="29.4" y1="964.65" x2="32.4" y2="964.65" stroke="#333" stroke-width="1.07"/>
<text x="27.3" y="968.15" font-size="8.3" text-anchor="end" fill="#4D4D4D" stroke="#4D4D4D" stroke-width="0.2">a6</text>
<line x1="29.4" y1="971.28" x2="32.4" y2="971.28" stroke="#333" stroke-width="1.07"/>
<text x="27.3" y="974.78" font-size="8.3" text-anchor="end" fill="#4D4D4D" stroke="#4D4D4D" stroke-width="0.2">i6</text>
<line x1="29.4" y1="977.92" x2="32.4" y2="977.92" stroke="#333" stroke-width="1.07"/>
<text x="27.3" y="981.42" font-size="8.3" text-anchor="end" fill="#4D4D4D" stroke="#4D4D4D" stroke-width="0.2">e4</text>
<line x1="29.4" y1="984.56" x2="32.4" y2="984.56" stroke="#333" stroke-width="1.07"/>
<text x="27.3" y="988.06" font-size="8.3" text-anchor="end" fill="#4D4D4D" stroke="#4D4D4D" stroke-width="0.2">ag0</text>
<line x1="29.4" y1="991.2" x2="32.4" y2="991.2" stroke="#333" stroke-width="1.07"/>
<text x="27.3" y="994.7" font-size="8.3" text-anchor="end" fill="#4D4D4D" stroke="#4D4D4D" stroke-width="0.2">n5</text>
<line x1="29.4" y1="997.84" x2="32.4" y2="997.84" stroke="#333" stroke-width="1.07"/>
<text x="27.3" y="1001.34" font-size="8.3" text-anchor="end" fill="#4D4D4D" stroke="#4D4D4D" stroke-width="0.2">i16</text>
<line x1="29.4" y1="1004.47" x2="32.4" y2="1004.47" stroke="#333" stroke-width="1.07"/>
<text x="27.3" y="1007.97" font-size="8.3" text-anchor="end" fill="#4D4D4D" stroke="#4D4D4D" stroke-width="0.2">a9</text>
<line x1="29.4" y1="1011.11" x2="32.4" y2="1011.11" stroke="#333" stroke-width="1.07"/>
<text x="27.3" y="1014.61" font-size="8.3" text-anchor="end" fill="#4D4D4D" stroke="#4D4D4D" stroke-width="0.2">i7</text>
<line x1="29.4" y1="1017.75" x2="32.4" y2="1017.75" stroke="#333" stroke-width="1.07"/>
<text x="27.3" y="1021.25" font-size="8.3" text-anchor="end" fill="#4D4D4D" stroke="#4D4D4D" stroke-width="0.2">a1</text>
<line x1="29.4" y1="1024.39" x2="32.4" y2="1024.39" stroke="#333" stroke-width="1.07"/>
<text x="27.3" y="1027.89" font-size="8.3" text-anchor="end" fill="#4D4D4D" stroke="#4D4D4D" stroke-width="0.2">a3</text>
<line x1="29.4" y1="1031.03" x2="32.4" y2="1031.03" stroke="#333" stroke-width="1.07"/>
<text x="27.3" y="1034.53" font-size="8.3" text-anchor="end" fill="#4D4D4D" stroke="#4D4D4D" stroke-width="0.2">n7</text>
<line x1="29.4" y1="1037.66" x2="32.4" y2="1037.66" stroke="#333" stroke-width="1.07"/>
<text x="27.3" y="1041.16" font-size="8.3" text-anchor="end" fill="#4D4D4D" stroke="#4D4D4D" stroke-width="0.2">e2</text>
<line x1="29.4" y1="1044.3" x2="32.4" y2="1044.3" stroke="#333" stroke-width="1.07"/>
<text x="27.3" y="1047.8" font-size="8.3" text-anchor="end" fill="#4D4D4D" stroke="#4D4D4D" stroke-width="0.2">ac</text>
<line x1="29.4" y1="1050.94" x2="32.4" y2="1050.94" stroke="#333" stroke-width="1.07"/>
<text x="27.3" y="1054.44" font-size="8.3" text-anchor="end" fill="#4D4D4D" stroke="#4D4D4D" stroke-width="0.2">n6</text>
<line x1="29.4" y1="1057.58" x2="32.4" y2="1057.58" stroke="#333" stroke-width="1.07"/>
<text x="27.3" y="1061.08" font-size="8.3" text-anchor="end" fill="#4D4D4D" stroke="#4D4D4D" stroke-width="0.2">a4</text>
<line x1="29.4" y1="1064.22" x2="32.4" y2="1064.22" stroke="#333" stroke-width="1.07"/>
<text x="27.3" y="1067.72" font-size="8.3" text-anchor="end" fill="#4D4D4D" stroke="#4D4D4D" stroke-width="0.2">i5</text>
<line x1="29.4" y1="1070.85" x2="32.4" y2="1070.85" stroke="#333" stroke-width="1.07"/>
<text x="27.3" y="1074.35" font-size="8.3" text-anchor="end" fill="#4D4D4D" stroke="#4D4D4D" stroke-width="0.2">i13</text>
<line x1="29.4" y1="1077.49" x2="32.4" y2="1077.49" stroke="#333" stroke-width="1.07"/>
<text x="27.3" y="1080.99" font-size="8.3" text-anchor="end" fill="#4D4D4D" stroke="#4D4D4D" stroke-width="0.2">i11</text>
<line x1="29.4" y1="1084.13" x2="32.4" y2="1084.13" stroke="#333" stroke-width="1.07"/>
<text x="27.3" y="1087.63" font-size="8.3" text-anchor="end" fill="#4D4D4D" stroke="#4D4D4D" stroke-width="0.2">a8</text>
<line x1="29.4" y1="1090.77" x2="32.4" y2="1090.77" stroke="#333" stroke-width="1.07"/>
<text x="27.3" y="1094.27" font-size="8.3" text-anchor="end" fill="#4D4D4D" stroke="#4D4D4D" stroke-width="0.2">e3</text>
<line x1="29.4" y1="1097.41" x2="32.4" y2="1097.41" stroke="#333" stroke-width="1.07"/>
<text x="27.3" y="1100.91" font-size="8.3" text-anchor="end" fill="#4D4D4D" stroke="#4D4D4D" stroke-width="0.2">n3</text>
<line x1="29.4" y1="1104.04" x2="32.4" y2="1104.04" stroke="#333" stroke-width="1.07"/>
<text x="27.3" y="1107.54" font-size="8.3" text-anchor="end" fill="#4D4D4D" stroke="#4D4D4D" stroke-width="0.2">b1</text>
<line x1="29.4" y1="1110.68" x2="32.4" y2="1110.68" stroke="#333" stroke-width="1.07"/>
<text x="27.3" y="1114.18" font-size="8.3" text-anchor="end" fill="#4D4D4D" stroke="#4D4D4D" stroke-width="0.2">a11</text>
<line x1="29.4" y1="1117.32" x2="32.4" y2="1117.32" stroke="#333" stroke-width="1.07"/>
<text x="27.3" y="1120.82" font-size="8.3" text-anchor="end" fill="#4D4D4D" stroke="#4D4D4D" stroke-width="0.2">b3</text>
<line x1="199.5" y1="1121.1" x2="199.5" y2="1123.85" stroke="#333" stroke-width="1.07"/>
<text x="199.5" y="1133.1" font-size="9.13" text-anchor="middle" fill="#4D4D4D">−0.5</text>
<line x1="391" y1="1121.1" x2="391" y2="1123.85" stroke="#333" stroke-width="1.07"/>
<text x="391" y="1133.1" font-size="9.13" text-anchor="middle" fill="#4D4D4D">0.0</text>
<line x1="582.5" y1="1121.1" x2="582.5" y2="1123.85" stroke="#333" stroke-width="1.07"/>
<text x="582.5" y="1133.1" font-size="9.13" text-anchor="middle" fill="#4D4D4D">0.5</text>
<text x="358.5" y="1145.4" font-size="11.42" text-anchor="middle" fill="#000">PRCC</text>
<text transform="translate(8.5,578.6) rotate(-90)" x="0" y="0" font-size="11.42" text-anchor="middle" fill="#000">Parameter</text>
</svg></body></html>
